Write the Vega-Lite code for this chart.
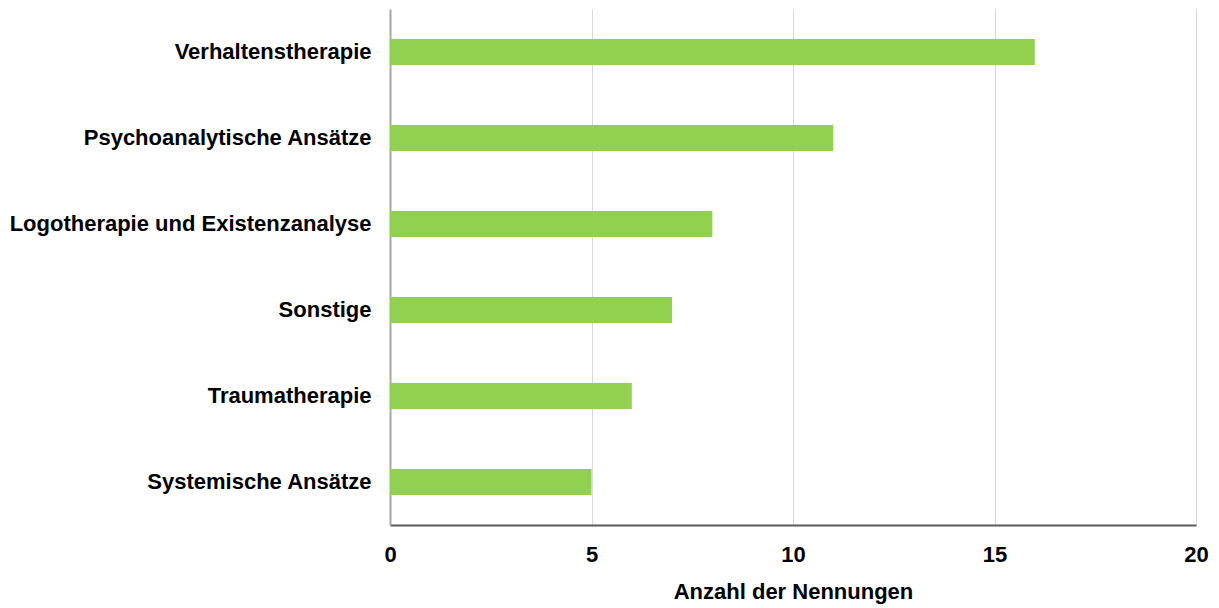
{
  "$schema": "https://vega.github.io/schema/vega-lite/v6.json",
  "width": 806,
  "height": 516,
  "autosize": {"type": "none"},
  "padding": {"left": 390, "top": 9, "right": 23, "bottom": 83},
  "background": "white",
  "config": {"view": {"stroke": null}, "font": "Liberation Sans"},
  "data": {"values": [
    {"kategorie": "Verhaltenstherapie", "anzahl": 16},
    {"kategorie": "Psychoanalytische Ansätze", "anzahl": 11},
    {"kategorie": "Logotherapie und Existenzanalyse", "anzahl": 8},
    {"kategorie": "Sonstige", "anzahl": 7},
    {"kategorie": "Traumatherapie", "anzahl": 6},
    {"kategorie": "Systemische Ansätze", "anzahl": 5}
  ]},
  "mark": {"type": "bar", "color": "#92d050"},
  "encoding": {
    "y": {
      "field": "kategorie", "type": "nominal", "sort": null,
      "scale": {"paddingInner": 0.7, "paddingOuter": 0.35},
      "axis": {"title": null, "labelFontSize": 22, "labelFontWeight": "bold", "labelColor": "#000000", "labelPadding": 19, "ticks": false, "domainColor": "#a6a6a6", "domainWidth": 2, "labelLimit": 400}
    },
    "x": {
      "field": "anzahl", "type": "quantitative",
      "scale": {"domain": [0, 20]},
      "axis": {"title": "Anzahl der Nennungen", "values": [0, 5, 10, 15, 20], "labelFlush": false, "titleFontSize": 22, "titleFontWeight": "bold", "titleColor": "#000000", "titlePadding": 16, "labelFontSize": 22, "labelFontWeight": "bold", "labelColor": "#000000", "labelPadding": 19, "ticks": false, "domainColor": "#595959", "domainWidth": 2, "gridColor": "#d9d9d9", "gridWidth": 1}
    }
  }
}
